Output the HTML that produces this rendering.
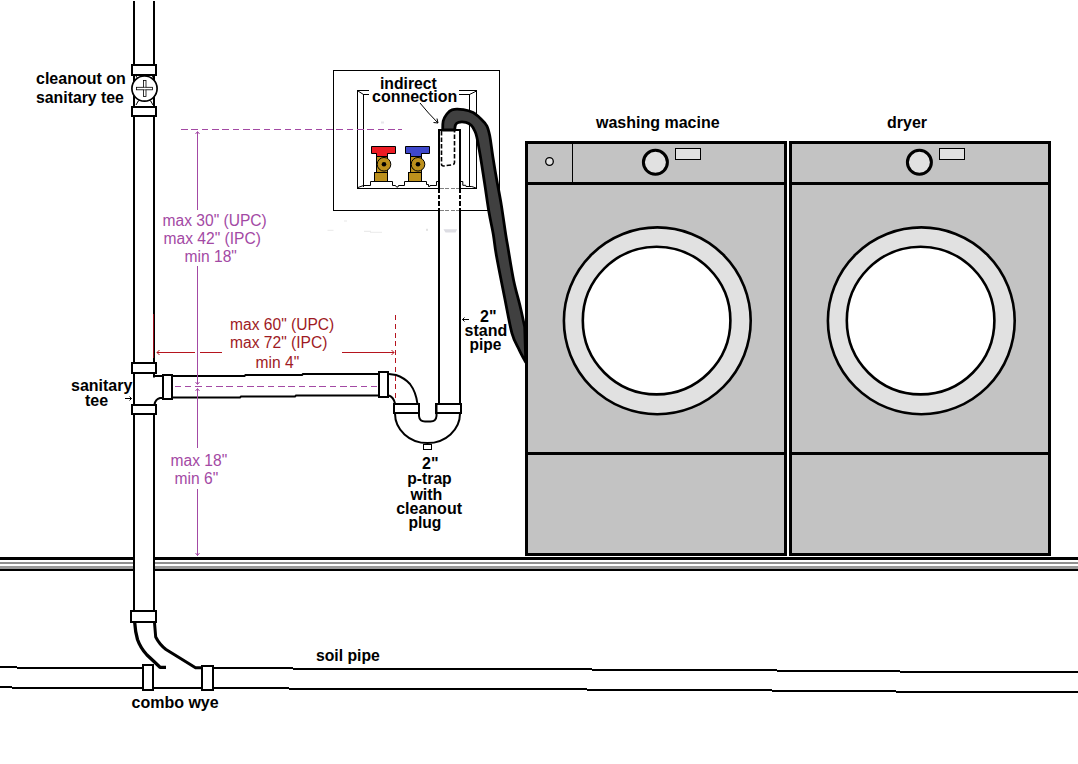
<!DOCTYPE html>
<html lang="en">
<head>
<meta charset="utf-8">
<title>Washing machine standpipe and p-trap diagram</title>
<style>
html,body{margin:0;padding:0;background:#fff;}
body{width:1078px;height:764px;overflow:hidden;}
svg{display:block;}
text{font-family:"Liberation Sans",Arial,Helvetica,sans-serif;font-size:16px;}
.b{font-weight:bold;fill:#000;}
.p{fill:#a349a4;font-size:15.6px;}
.r{fill:#9e1a24;font-size:15.6px;}
</style>
</head>
<body>
<svg width="1078" height="764" viewBox="0 0 1078 764">
<rect x="0" y="0" width="1078" height="764" fill="#ffffff"/>

<!-- FLOOR -->
<g id="floor" shape-rendering="crispEdges">
  <rect x="0" y="557" width="1078" height="3" fill="#000"/>
  <rect x="0" y="562" width="1078" height="2" fill="#909090"/>
  <rect x="0" y="566" width="1078" height="3" fill="#999999"/>
  <rect x="0" y="569" width="1078" height="2" fill="#000"/>
</g>

<!-- WALL BOX -->
<g id="box" fill="none" stroke="#000" stroke-width="1" shape-rendering="crispEdges">
  <rect x="333.5" y="70.5" width="166" height="140" fill="#fff"/>
  <rect x="357.5" y="90.5" width="119" height="98"/>
  <polyline points="363.5,187 363.5,94.5 469.5,94.5 469.5,187"/>
</g>
<g id="boxdetail" fill="none" stroke="#000" stroke-width="1">
  <line x1="358" y1="91" x2="363.5" y2="94.5"/>
  <line x1="476.5" y1="91" x2="469.5" y2="94.5"/>
  <polyline points="358,187.500 363.500,185.500 370.500,185.500 370.500,181.500 392.500,181.500 392.500,185.500 395.500,185.500 396.500,187 398,187 398.500,185.500 404.500,185.500 404.500,181.500 426.500,181.500 426.500,184.500 428.500,184.500 428.500,186.500 429.800,186.500 430,185.500 436.500,185.500 436.500,181.500 439,181.500"/>
  <polyline points="461,181.500 462.800,181.500 462.800,185.300 465.700,185.300 466,186.500 471.800,186.500 476,188"/>
</g>

<!-- VALVES -->
<g id="valves" stroke="#000" stroke-width="1">
  <g>
    <rect x="376.500" y="153" width="11" height="20" fill="#bc901c"/>
    <rect x="374.5" y="172.5" width="13" height="9" fill="#bc901c"/>
    <path d="M371.500,146.500 H395.500 V153.500 H387.500 V156.500 H376.500 V153.500 H371.500 Z" fill="#ed1c24"/>
    <circle cx="384" cy="164.300" r="6.800" fill="#bc901c"/>
    <circle cx="384" cy="164.300" r="2.300" fill="#000" stroke="none"/>
  </g>
  <g>
    <rect x="410.500" y="153" width="11" height="20" fill="#bc901c"/>
    <rect x="408.500" y="172.500" width="13" height="9" fill="#bc901c"/>
    <path d="M405.500,146.500 H429.500 V153.500 H421.500 V156.500 H410.500 V153.500 H405.500 Z" fill="#3f48cc"/>
    <circle cx="418" cy="164.300" r="6.800" fill="#bc901c"/>
    <circle cx="418" cy="164.300" r="2.300" fill="#000" stroke="none"/>
  </g>
</g>

<!-- PURPLE DIMENSION LINES -->
<g id="purple" stroke="#a349a4" stroke-width="1" fill="none" shape-rendering="crispEdges">
  <line x1="181" y1="129.500" x2="401.500" y2="129.500" stroke-dasharray="6.600 3.750"/>
  <line x1="197.500" y1="132" x2="197.500" y2="210"/>
  <line x1="197.500" y1="266" x2="197.500" y2="384"/>
  <line x1="197.500" y1="389" x2="197.500" y2="448"/>
  <line x1="197.500" y1="489" x2="197.500" y2="556"/>
  <line x1="174.500" y1="386.500" x2="377" y2="386.500" stroke-dasharray="6.600 3.750"/>
</g>
<g stroke="#a349a4" stroke-width="1" fill="none">
  <polyline points="195.500,134 197.500,131.500 199.500,134"/>
  <polyline points="195.500,382 197.500,384.500 199.500,382"/>
  <polyline points="195.500,391 197.500,388.500 199.500,391"/>
  <polyline points="195.500,553 197.500,555.500 199.500,553"/>
</g>

<!-- RED DIMENSION LINES -->
<g id="red" stroke="#b5141e" stroke-width="1" fill="none" shape-rendering="crispEdges">
  <line x1="153.500" y1="314" x2="153.500" y2="358"/>
  <line x1="395.500" y1="315.300" x2="395.500" y2="400" stroke-dasharray="5 3.600"/>
  <line x1="157" y1="352.500" x2="195" y2="352.500"/>
  <line x1="200" y1="352.500" x2="222" y2="352.500"/>
  <line x1="342" y1="352.500" x2="394" y2="352.500"/>
</g>
<g stroke="#b5141e" stroke-width="1" fill="none">
  <polyline points="159.500,350 157,352.500 159.500,355"/>
  <polyline points="391.500,350 394,352.500 391.500,355"/>
</g>

<!-- STAND PIPE -->
<g id="standpipe" shape-rendering="crispEdges">
  <rect x="438" y="130" width="22" height="276" fill="#fff"/>
  <g stroke="#000" stroke-width="2" fill="none">
    <line x1="439" y1="129" x2="439" y2="188"/>
    <line x1="460" y1="129" x2="460" y2="188"/>
    <line x1="439" y1="188" x2="439" y2="211" stroke-dasharray="4.700 2.100 4 2.200 4.600 2.200 100"/>
    <line x1="460" y1="188" x2="460" y2="211" stroke-dasharray="4.700 2.100 4 2.200 4.600 2.200 100"/>
    <line x1="439" y1="211" x2="439" y2="405"/>
    <line x1="460" y1="211" x2="460" y2="405"/>
    <line x1="438" y1="130" x2="461" y2="130"/>
  </g>
  <g stroke="#808080" stroke-width="1" fill="none">
    <line x1="440" y1="188.500" x2="459" y2="188.500" stroke-dasharray="4 1.300"/>
    <line x1="440" y1="210.500" x2="459" y2="210.500" stroke-dasharray="4 1.300"/>
  </g>
</g>
<path d="M441.500,131 V164 Q441.500,166 443.500,166 L452.500,164.800 Q454.500,164.500 454.500,162.500 V131" fill="none" stroke="#000" stroke-width="1.600" stroke-dasharray="4.500 2"/>

<!-- faint scan marks -->
<g id="smudges" fill="#dddde3">
  <path d="M443.500,229.300 H457.200 L455.500,232.600 H445.500 Z"/>
  <rect x="327.500" y="229.800" width="6" height="1" fill="#e9e9e9"/>
  <rect x="364" y="230.800" width="7" height="1" fill="#e6e6e6"/>
  <rect x="370" y="231.800" width="12" height="1" fill="#eaeaea"/>
  <rect x="426" y="228.800" width="2" height="2" fill="#e2e2e2"/>
  <rect x="344" y="220.500" width="3" height="1" fill="#e8e8e8"/>
  <rect x="381" y="121.500" width="3" height="2" fill="#e6e6ea"/>
</g>
<!-- HOSE -->
<path id="hose" d="M442.7,130.0 C442.8,128.5 442.6,123.6 443.2,121.0 C443.8,118.4 445.0,116.4 446.5,114.5 C448.0,112.6 449.2,110.6 452.0,109.8 C454.8,109.0 459.9,109.2 463.4,109.7 C466.9,110.2 470.1,111.1 473.0,112.6 C475.9,114.1 478.5,116.6 480.8,118.8 C483.1,121.0 485.3,123.0 486.8,125.8 C488.3,128.6 488.6,130.1 489.7,135.6 C490.8,141.1 491.9,151.2 493.2,159.0 C494.4,166.8 495.8,174.9 497.2,182.6 C498.6,190.2 499.9,196.2 501.3,204.9 C502.7,213.6 504.7,227.9 505.8,235.0 C506.9,242.1 506.6,239.6 507.9,247.2 C509.2,254.8 511.6,270.7 513.7,280.7 C515.8,290.7 518.5,299.3 520.3,307.0 C522.1,314.7 524.0,323.7 524.7,327.0 L525.8,362.4 C524.7,360.3 521.5,354.7 519.2,349.8 C516.9,344.9 514.3,341.8 511.9,333.1 C509.5,324.4 507.2,310.4 504.6,297.5 C502.0,284.6 498.3,266.0 496.4,255.6 C494.5,245.2 494.6,242.2 493.4,235.0 C492.2,227.8 490.5,221.1 489.0,212.3 C487.5,203.6 485.9,191.4 484.5,182.5 C483.1,173.6 482.1,166.5 480.8,158.9 C479.5,151.3 477.9,141.7 476.8,137.0 C475.8,132.3 475.4,132.5 474.5,130.5 C473.6,128.5 472.6,126.5 471.2,125.2 C469.8,123.9 468.1,122.9 466.0,122.4 C463.9,121.9 460.2,121.9 458.5,122.3 C456.8,122.7 456.1,123.5 455.5,124.8 C454.9,126.1 454.8,129.1 454.7,130.0 Z" fill="#404040" stroke="#000" stroke-width="2.800" stroke-linejoin="round"/>

<!-- WASHER -->
<g id="washer" shape-rendering="crispEdges">
  <rect x="526.500" y="142.500" width="259" height="412" fill="#c3c3c3" stroke="#000" stroke-width="3"/>
  <rect x="527" y="182" width="259" height="3" fill="#000"/>
  <rect x="527" y="452" width="259" height="3" fill="#000"/>
  <rect x="572" y="144" width="1" height="38" fill="#000"/>
  <rect x="675.500" y="148.500" width="25" height="11" fill="#e1e1e1" stroke="#000" stroke-width="1"/>
</g>
<circle cx="549.500" cy="161.500" r="3.800" fill="#e1e1e1" stroke="#000" stroke-width="1.300"/>
<circle cx="655.400" cy="162.300" r="12" fill="#e1e1e1" stroke="#000" stroke-width="3"/>
<circle cx="657.300" cy="320.800" r="93.400" fill="#e1e1e1" stroke="#000" stroke-width="2.600"/>
<circle cx="656.600" cy="320.600" r="73.800" fill="#fff" stroke="#000" stroke-width="2.600"/>

<!-- DRYER -->
<g id="dryer" shape-rendering="crispEdges">
  <rect x="790.500" y="142.500" width="259" height="412" fill="#c3c3c3" stroke="#000" stroke-width="3"/>
  <rect x="790.500" y="182" width="259" height="3" fill="#000"/>
  <rect x="790.500" y="452" width="259" height="3" fill="#000"/>
  <rect x="939.500" y="148.500" width="25" height="11" fill="#e1e1e1" stroke="#000" stroke-width="1"/>
</g>
<circle cx="919.400" cy="162.300" r="12" fill="#e1e1e1" stroke="#000" stroke-width="3"/>
<circle cx="921.300" cy="320.800" r="93.400" fill="#e1e1e1" stroke="#000" stroke-width="2.600"/>
<circle cx="920.600" cy="320.600" r="73.800" fill="#fff" stroke="#000" stroke-width="2.600"/>

<!-- VERTICAL STACK -->
<g id="stack" shape-rendering="crispEdges">
  <rect x="134" y="1" width="20" height="611" fill="#fff"/>
  <rect x="133" y="1" width="2" height="611" fill="#000"/>
  <rect x="153" y="1" width="2" height="611" fill="#000"/>
  <rect x="153" y="314" width="1" height="44" fill="#9a0f1c"/>
  <g fill="#fff" stroke="#000" stroke-width="2">
    <rect x="132" y="65" width="24" height="10"/>
    <rect x="132" y="107" width="24" height="9"/>
    <rect x="132" y="362.500" width="24" height="10.500"/>
    <rect x="132" y="405" width="24" height="9"/>
    <rect x="131" y="611" width="25" height="11"/>
  </g>
</g>
<!-- cleanout -->
<g id="cleanout">
  <path d="M136,76 Q138,80 140,80 M153,76 Q151,80 149,80 M136,105 Q138,100 141,99 M153,105 Q151,100 148,99" fill="none" stroke="#000" stroke-width="1"/>
  <circle cx="144.500" cy="88.600" r="12.600" fill="#fff" stroke="#000" stroke-width="1.700"/>
  <rect x="143.500" y="80.500" width="2.500" height="16" fill="#fff" stroke="#000" stroke-width="0.800"/>
  <rect x="136.500" y="87.300" width="16" height="2.500" fill="#fff" stroke="#000" stroke-width="0.800"/>
  <rect x="144" y="87.800" width="1.500" height="1.500" fill="#fff"/>
</g>

<!-- SANITARY TEE + HORIZONTAL ARM -->
<g id="arm">
  <path d="M152,374 L156,374 L156,376 L163,376 L163,398 L159,398 Q155,399 155,404 L152,404 Z" fill="#fff" stroke="none"/>
  <path d="M154,373 V377.500 M154,376 H163" fill="none" stroke="#000" stroke-width="2"/>
  <path d="M163,398 H160 Q155.500,399 154.500,404.500" fill="none" stroke="#000" stroke-width="2"/>
  <polygon points="172,375 240,375 240,374.500 310,374.500 310,374 379,373.500 379,396 310,396.500 240,397 172,398" fill="#fff"/>
  <path d="M172,376 H244.500 L245.500,375 H302 L303,374 H379" fill="none" stroke="#000" stroke-width="2"/>
  <path d="M172,397.500 H240 L241,396.500 H295 L296,395.500 H379" fill="none" stroke="#000" stroke-width="2"/>
  <rect x="163" y="375" width="9" height="24" fill="#fff" stroke="#000" stroke-width="2" shape-rendering="crispEdges"/>
  <rect x="379" y="372" width="9" height="25" fill="#fff" stroke="#000" stroke-width="2" shape-rendering="crispEdges"/>
</g>
<g stroke="#a349a4" stroke-width="1" fill="none" shape-rendering="crispEdges">
  <line x1="174.500" y1="386.500" x2="377" y2="386.500" stroke-dasharray="6.600 3.750"/>
  <line x1="197.500" y1="375" x2="197.500" y2="384"/>
  <line x1="197.500" y1="389" x2="197.500" y2="399"/>
</g>
<g stroke="#a349a4" stroke-width="1" fill="none">
  <polyline points="195.500,382 197.500,384.500 199.500,382"/>
  <polyline points="195.500,391 197.500,388.500 199.500,391"/>
</g>

<!-- P-TRAP -->
<g id="ptrap" fill="none" stroke="#000" stroke-width="2">
  <path d="M389,374 L396,375 Q404,377.500 410,384 Q416,392 417.500,404" />
  <path d="M389,395.500 Q393.500,397 395,403.500" />
  <path d="M395,413.500 A32.500,29.600 0 0 0 460,413.500" fill="#fff"/>
  <path d="M419,413.500 V416 Q419.500,421.500 425,421.500 H430.500 Q436,421.500 436.500,416 V413.500" fill="#fff"/>
  <rect x="394" y="404" width="25" height="9" fill="#fff" shape-rendering="crispEdges"/>
  <rect x="436" y="404" width="25" height="9" fill="#fff" shape-rendering="crispEdges"/>
  <path d="M419,405 V414 M436.500,405 V414"/>
  <rect x="423.500" y="444.500" width="8" height="5" fill="#fff" stroke-width="1" shape-rendering="crispEdges"/>
</g>
<line x1="395.500" y1="315.300" x2="395.500" y2="400" stroke="#b5141e" stroke-width="1" stroke-dasharray="5 3.600" shape-rendering="crispEdges"/>

<!-- COMBO WYE + SOIL PIPE -->
<g id="soil" fill="none" stroke="#000" stroke-width="2">
  <g shape-rendering="crispEdges">
    <path d="M0,667 H17 M17,668 H143"/>
    <path d="M0,687 H12 M12,688 H143"/>
    <path d="M153,688 H202"/>
    <path d="M213,668 H293 M293,669 H592 M592,670 H777 M777,671 H900 M900,672 H1078"/>
    <path d="M213,688 H289 M289,689 H587 M587,690 H772 M772,691 H896 M896,692 H1078"/>
  </g>
  <path d="M134.700,622.500 Q135.300,632 137.500,639.500 Q140.500,648 147,655 L154,661.500 L160,667.300 H166" stroke-width="3.300" stroke-linejoin="round"/>
  <path d="M154.500,622.500 L155.700,637 Q159.500,644.500 166,649.500 L179,657.500 L189.500,664 L195.500,667.800 H201" stroke-width="3" stroke-linejoin="round"/>
  <rect x="143" y="665" width="10" height="25" fill="#fff" shape-rendering="crispEdges"/>
  <rect x="202" y="666" width="11" height="24" fill="#fff" shape-rendering="crispEdges"/>
</g>

<!-- LABELS -->
<g id="labels">
  <text class="b" x="36" y="83.500">cleanout on</text>
  <text class="b" x="36" y="102.500" textLength="87.900" lengthAdjust="spacingAndGlyphs">sanitary tee</text>

  <rect x="369" y="76" width="90" height="27" fill="#fff"/>
  <text class="b" x="380" y="89" textLength="56.700" lengthAdjust="spacingAndGlyphs">indirect</text>
  <text class="b" x="372" y="101.500">connection</text>
  <path d="M420,103 Q428,113 438,123" fill="none" stroke="#000" stroke-width="1"/>
  <path d="M433.500,122.500 L438,123 L437,118.500" fill="none" stroke="#000" stroke-width="1"/>

  <text class="b" x="596" y="127.500">washing macine</text>
  <text class="b" x="887" y="127.500">dryer</text>

  <text class="b" x="480" y="321.500">2"</text>
  <text class="b" x="464.500" y="335.500">stand</text>
  <text class="b" x="469.500" y="349.500" textLength="31.900" lengthAdjust="spacingAndGlyphs">pipe</text>
  <path d="M462.500,319.500 H469 M464.500,317.500 L462.500,319.500 L464.500,321.500" fill="none" stroke="#000" stroke-width="1"/>

  <text class="b" x="71" y="390.500">sanitary</text>
  <text class="b" x="85" y="405.500">tee</text>
  <path d="M125,398.500 H131.500 M129.500,396.500 L131.500,398.500 L129.500,400.500" fill="none" stroke="#000" stroke-width="1"/>

  <text class="b" x="422" y="468.500">2"</text>
  <text class="b" x="407.300" y="483.800" textLength="44.400" lengthAdjust="spacingAndGlyphs">p-trap</text>
  <text class="b" x="410.400" y="499.600">with</text>
  <text class="b" x="396.200" y="513.500">cleanout</text>
  <text class="b" x="408.400" y="528" textLength="33" lengthAdjust="spacingAndGlyphs">plug</text>

  <text class="b" x="316" y="660.500" textLength="63.800" lengthAdjust="spacingAndGlyphs">soil pipe</text>
  <text class="b" x="131.500" y="708">combo wye</text>

  <text class="p" x="162.500" y="225.500">max 30" (UPC)</text>
  <text class="p" x="163.500" y="243.500">max 42" (IPC)</text>
  <text class="p" x="184.500" y="261.500">min 18"</text>

  <text class="r" x="230" y="330">max 60" (UPC)</text>
  <text class="r" x="230" y="347.500">max 72" (IPC)</text>
  <text class="r" x="255.500" y="367.500">min 4"</text>

  <text class="p" x="170.500" y="465.500">max 18"</text>
  <text class="p" x="174.500" y="483.500">min 6"</text>
</g>
</svg>
</body>
</html>
